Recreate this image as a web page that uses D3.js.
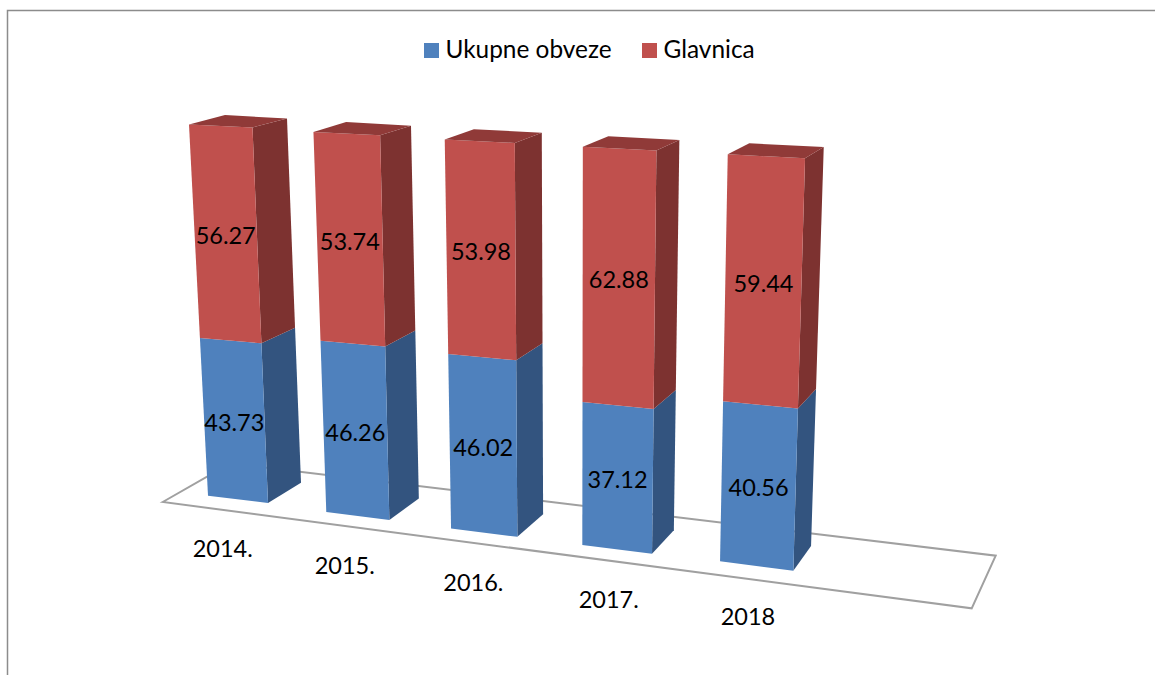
<!DOCTYPE html>
<html lang="hr">
<head>
    <meta charset="UTF-8">
    <title>Ukupne obveze i glavnica</title>
    <script src="https://d3js.org/d3.v7.min.js"></script>
    <style>
        body { margin: 0; background: #fff; }
        svg { display: block; }
        text { font-family: Lato, "Noto Sans", sans-serif; font-size: 23.5px; fill: #000; }
        .legend text { font-size: 24.4px; }
        .frame, .floor { fill: none; }
        .frame { stroke: #8c8c8c; stroke-width: 1.5; }
        .floor { stroke: #a0a0a0; stroke-width: 2; stroke-linejoin: miter; }
    </style>
</head>
<body>
    <svg width="1155" height="675"></svg>
    <script>
        const categories = ["2014.", "2015.", "2016.", "2017.", "2018"];
        const seriesNames = ["Ukupne obveze", "Glavnica"];
        const obveze = [43.73, 46.26, 46.02, 37.12, 40.56];
        const glavnica = [56.27, 53.74, 53.98, 62.88, 59.44];

        const colors = [
            { front: "#4f81bd", side: "#33547f" },
            { front: "#c0504d", side: "#7d3230" }
        ];
        const topColor = "#903a38";

        const svg = d3.select("svg");

        // the chart is a 3d box in the original, so every corner of a bar
        // moves along its own line as the category index grows.
        // spacing widens towards the viewer, hence the small squared term
        const index = i => 0.2247 * i + 0.00633 * i * i;
        const corner = (x0, x1, y0, y1) => {
            const x = d3.scaleLinear().range([x0, x1]);
            const y = d3.scaleLinear().range([y0, y1]);
            return i => [x(index(i)), y(i / (categories.length - 1))];
        };
        const bottomLeft = corner(208, 720, 495.7, 561.3);
        const bottomRight = corner(268, 793.3, 503, 570.7);
        const bottomBack = corner(301, 811, 482.7, 546);
        const topLeft = corner(189, 727.7, 124.5, 154.3);
        const topRight = corner(252.5, 805, 127.5, 158.3);
        const topBack = corner(287, 823.7, 118.5, 147);
        const topBackLeft = corner(225, 749.3, 115, 143.3);

        // value to share of bar height, slightly foreshortened
        const valueScale = d3.scalePow().exponent(1.034).domain([0, 100]).range([0, 1]);
        const along = (a, b, t) => [a[0] + (b[0] - a[0]) * t, a[1] + (b[1] - a[1]) * t];
        const line = d3.line().curve(d3.curveLinearClosed);

        // frame
        svg.append("path").attr("class", "frame").attr("d", "M7.5,675V10.5H1155");

        // floor
        svg.append("path").attr("class", "floor")
            .attr("d", line([[162.7, 502], [230.4, 463.3], [995.7, 555.7], [971.7, 608.3]]));

        // stacked segments
        const segments = [];
        categories.forEach((c, i) => {
            const mid = obveze[i];
            const to = obveze[i] + glavnica[i];
            segments.push({ i, s: 0, v0: 0, v1: mid, value: obveze[i] });
            segments.push({ i, s: 1, v0: mid, v1: to, value: glavnica[i] });
        });

        const point = (bottom, top, d, v) => along(bottom(d.i), top(d.i), valueScale(v));
        const frontFace = d => [
            point(bottomLeft, topLeft, d, d.v0),
            point(bottomRight, topRight, d, d.v0),
            point(bottomRight, topRight, d, d.v1),
            point(bottomLeft, topLeft, d, d.v1)
        ];
        const sideFace = d => [
            point(bottomRight, topRight, d, d.v0),
            point(bottomBack, topBack, d, d.v0),
            point(bottomBack, topBack, d, d.v1),
            point(bottomRight, topRight, d, d.v1)
        ];

        const bars = svg.append("g");
        bars.selectAll(".side").data(segments).enter().append("path")
            .attr("class", "side")
            .attr("fill", d => colors[d.s].side)
            .attr("d", d => line(sideFace(d)));
        bars.selectAll(".front").data(segments).enter().append("path")
            .attr("class", "front")
            .attr("fill", d => colors[d.s].front)
            .attr("d", d => line(frontFace(d)));
        bars.selectAll(".top").data(categories).enter().append("path")
            .attr("class", "top")
            .attr("fill", topColor)
            .attr("d", (c, i) => line([topLeft(i), topRight(i), topBack(i), topBackLeft(i)]));

        // value labels
        svg.selectAll(".value").data(segments).enter().append("text")
            .attr("class", "value")
            .attr("text-anchor", "middle")
            .attr("x", d => d3.mean(frontFace(d), p => p[0]))
            .attr("y", d => d3.mean(frontFace(d), p => p[1]) + 11)
            .text(d => d.value.toFixed(2));

        // category labels
        const labelX = d3.scaleLinear().range([192.7, 720.7]);
        const labelY = d3.scaleLinear().domain([0, categories.length - 1]).range([556.7, 625]);
        svg.selectAll(".category").data(categories).enter().append("text")
            .attr("class", "category")
            .attr("x", (c, i) => labelX(index(i)))
            .attr("y", (c, i) => labelY(i))
            .text(c => c);

        // legend
        const legendX = d3.scaleOrdinal().domain(seriesNames).range([424, 642]);
        const legend = svg.selectAll(".legend").data(seriesNames).enter().append("g")
            .attr("class", "legend")
            .attr("transform", d => `translate(${legendX(d)},43)`);
        legend.append("rect")
            .attr("width", 15)
            .attr("height", 15)
            .attr("fill", (d, i) => colors[i].front);
        legend.append("text")
            .attr("x", 21.5)
            .attr("y", 15.3)
            .text(d => d);
    </script>
</body>
</html>
